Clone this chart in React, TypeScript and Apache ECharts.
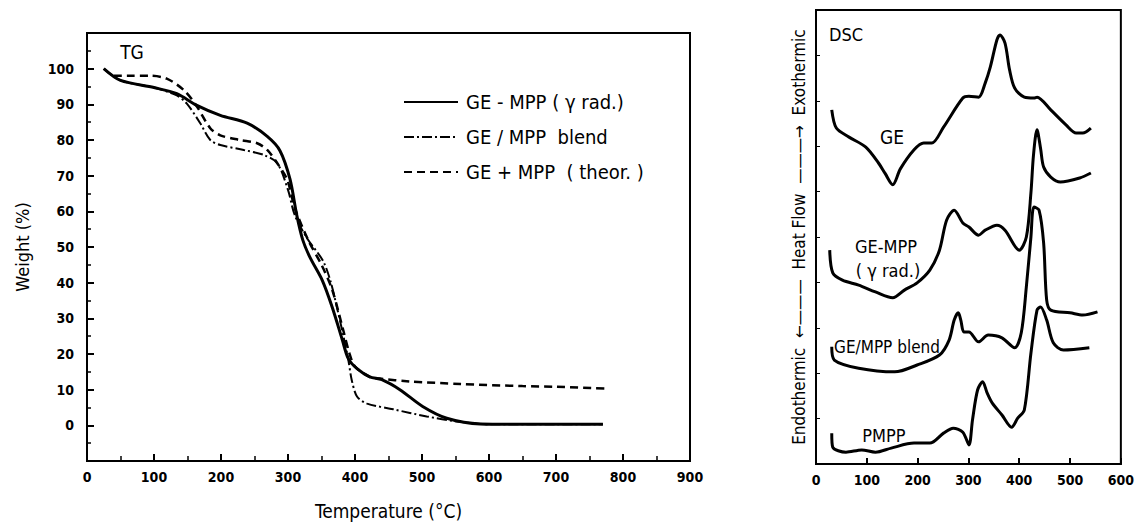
import React, { useEffect, useRef } from "react";
import * as echarts from "echarts";

const FONT = "'Liberation Sans Narrow', 'DejaVu Sans Condensed', 'Liberation Sans', sans-serif";

// ---- TG (left) ----
const tgXTicks = [0, 100, 200, 300, 400, 500, 600, 700, 800, 900];
const tgYLabels = [0, 10, 20, 30, 40, 50, 60, 70, 80, 90, 100];

const radT = [25, 50, 100, 134, 164, 199, 239, 269, 288, 303, 313, 322, 333, 351, 366, 381, 390, 403, 422, 440, 467, 501, 537, 587, 650, 700, 770];
const radW = [100, 96.7, 94.7, 93, 89.7, 86.9, 84.7, 81, 77, 69, 59, 52, 47, 40.7, 33.1, 24, 18.7, 15.9, 13.6, 12.8, 10, 5.3, 2, 0.4, 0.3, 0.3, 0.3];

const blendT = [25, 50, 100, 134, 149, 169, 184, 199, 234, 264, 284, 300, 310, 328, 352, 363, 373, 382, 390, 395, 403, 418, 457, 507, 552, 600, 700, 770];
const blendW = [100, 96.7, 94.7, 92.5, 90.2, 84.7, 80, 78.6, 77.2, 75.8, 73.5, 66, 59, 52.6, 46.2, 40.7, 33.1, 25.6, 18.4, 12.8, 8.1, 6.1, 4.5, 2.5, 1.1, 0.3, 0.3, 0.3];

const theorT = [40, 60, 94, 119, 145, 164, 184, 199, 228, 254, 269, 284, 299, 310, 330, 350, 366, 382, 392, 400, 422, 437, 482, 557, 650, 700, 778];
const theorW = [98, 98, 98, 97.2, 93.9, 89.4, 83.3, 81.3, 80, 79.1, 77.2, 73.5, 68.8, 61, 52, 45, 38, 27, 20, 16.5, 13.6, 13.1, 12.3, 11.6, 11, 10.8, 10.3];

// ---- DSC (right), arbitrary heat-flow units ----
const dscXTicks = [0, 100, 200, 300, 400, 500, 600];

const geT = [31, 40, 65, 98, 123, 136, 151, 166, 193, 212, 228, 251, 289, 301, 320, 333, 343, 356, 362, 372, 381, 391, 410, 429, 435, 462, 492, 512, 525, 541];
const geV = [78.0, 74.0, 72.0, 69.8, 66.3, 64.0, 61.5, 65.0, 69.2, 70.7, 70.7, 74.2, 80.6, 81.0, 80.8, 83.9, 87.4, 93.4, 94.5, 92.7, 86.8, 82.8, 80.8, 80.6, 80.8, 78.0, 74.7, 72.9, 72.9, 74.0];

const radDscT = [27, 33, 52, 84, 117, 151, 174, 199, 224, 243, 257, 272, 289, 301, 320, 333, 356, 372, 400, 414, 423, 428, 435, 442, 448, 462, 481, 519, 541];
const radDscV = [47.1, 42.1, 40.5, 39.4, 37.9, 36.6, 38.3, 39.9, 42.7, 47.1, 53.7, 55.9, 53.1, 52.2, 50.4, 51.5, 52.6, 51.5, 47.1, 50.0, 59.7, 68.0, 73.6, 69.5, 65.4, 63.2, 62.1, 63.0, 64.1];

const blendDscT = [31, 36, 84, 155, 199, 243, 262, 272, 280, 285, 291, 301, 320, 339, 366, 391, 404, 414, 423, 429, 439, 448, 454, 462, 500, 525, 554];
const blendDscV = [25.8, 22.9, 21.1, 20.3, 21.8, 24.0, 27.3, 31.7, 33.3, 31.7, 29.1, 29.1, 26.9, 28.4, 27.8, 25.6, 28.9, 39.0, 50.0, 56.6, 55.9, 48.7, 36.1, 33.9, 33.3, 32.8, 33.5];

const pmppT = [31, 33, 59, 90, 117, 148, 193, 224, 251, 270, 289, 301, 308, 318, 328, 337, 347, 366, 385, 397, 410, 423, 435, 442, 454, 467, 487, 538];
const pmppV = [6.8, 3.7, 2.6, 3.1, 2.6, 3.5, 4.6, 4.6, 6.8, 7.9, 7.0, 4.2, 9.7, 16.3, 18.1, 15.6, 13.4, 10.8, 8.1, 10.1, 11.9, 24.4, 33.9, 34.6, 31.7, 26.7, 25.1, 25.6];

const pairs = (xs: number[], ys: number[]) => xs.map((x, i) => [x, ys[i]]);

export default function App() {
  const ref = useRef<HTMLDivElement>(null);
  useEffect(() => {
    document.body.style.margin = "0";
    const chart = echarts.init(ref.current!, null, { renderer: "svg" });
    const axisLine = { show: true, onZero: false, lineStyle: { color: "#000", width: 2 } };
    const tickLabel = { color: "#000", fontFamily: FONT, fontSize: 14, fontWeight: "bold" as const };
    const txt = (x: number, y: number, text: string, size = 19) => ({
      type: "text", x, y, silent: true,
      style: { text, font: `${size}px ${FONT}`, fill: "#000", align: "center", verticalAlign: "middle" },
    });
    const dscLine = (name: string, xs: number[], ys: number[]) => ({
      name, type: "line", xAxisIndex: 1, yAxisIndex: 1, data: pairs(xs, ys),
      symbol: "none", smooth: 0.3, lineStyle: { color: "#000", width: 3 }, silent: true,
    });
    chart.setOption({
      animation: false,
      backgroundColor: "#fff",
      grid: [
        { left: 87, top: 33, width: 603, height: 432, show: true, borderColor: "#000", borderWidth: 2 },
        { left: 816, top: 10, width: 313, height: 454, show: true, borderColor: "#000", borderWidth: 2 },
      ],
      legend: {
        data: ["GE - MPP ( γ rad.)", "GE / MPP  blend", "GE + MPP  ( theor. )"],
        orient: "vertical", left: 398, top: 87, itemWidth: 54, itemHeight: 12, itemGap: 15,
        itemStyle: { opacity: 0 },
        textStyle: { color: "#000", fontFamily: FONT, fontSize: 20, padding: [0, 0, 0, 3] },
      },
      xAxis: [
        {
          gridIndex: 0, type: "value", min: 0, max: 900, interval: 100,
          axisLine, axisTick: { inside: true, length: 7, lineStyle: { color: "#000", width: 2 } },
          minorTick: { show: true, splitNumber: 2, length: 5, lineStyle: { color: "#000", width: 1.5 } },
          splitLine: { show: false },
          axisLabel: { ...tickLabel, margin: 9, customValues: tgXTicks },
          name: "Temperature (°C)", nameLocation: "middle", nameGap: 40,
          nameTextStyle: { color: "#000", fontFamily: FONT, fontSize: 19 },
        },
        {
          gridIndex: 1, type: "value", min: 0, max: 600, interval: 100,
          axisLine, axisTick: { inside: true, length: 6, lineStyle: { color: "#000", width: 2 } },
          splitLine: { show: false },
          axisLabel: { ...tickLabel, margin: 9, customValues: dscXTicks },
        },
      ],
      yAxis: [
        {
          gridIndex: 0, type: "value", min: -10, max: 110, interval: 10,
          axisLine, axisTick: { inside: true, length: 7, lineStyle: { color: "#000", width: 2 } },
          minorTick: { show: true, splitNumber: 2, length: 4, lineStyle: { color: "#000", width: 1.5 } },
          splitLine: { show: false },
          axisLabel: { ...tickLabel, margin: 13, formatter: (v: number) => (tgYLabels.includes(v) ? String(v) : "") },
          name: "Weight (%)", nameLocation: "middle", nameGap: 56, nameRotate: 90,
          nameTextStyle: { color: "#000", fontFamily: FONT, fontSize: 18 },
        },
        {
          gridIndex: 1, type: "value", min: 0, max: 100, interval: 10,
          axisLine, axisTick: { inside: true, length: 4, lineStyle: { color: "#000", width: 1 } },
          splitLine: { show: false }, axisLabel: { show: false },
          name: "Endothermic  ←———  Heat Flow  ———→  Exothermic", nameLocation: "middle", nameGap: 9, nameRotate: 90,
          nameTextStyle: { color: "#000", fontFamily: FONT, fontSize: 17 },
        },
      ],
      series: [
        {
          name: "GE - MPP ( γ rad.)", type: "line", data: pairs(radT, radW), symbol: "none",
          smooth: 0.3, lineStyle: { color: "#000", width: 3 }, itemStyle: { color: "#000" },
        },
        {
          name: "GE / MPP  blend", type: "line", data: pairs(blendT, blendW), symbol: "none",
          smooth: 0.3, lineStyle: { color: "#000", width: 2, type: [10, 3, 2, 3] }, itemStyle: { color: "#000" },
        },
        {
          name: "GE + MPP  ( theor. )", type: "line", data: pairs(theorT, theorW), symbol: "none",
          smooth: 0.3, lineStyle: { color: "#000", width: 2.5, type: [8, 5] }, itemStyle: { color: "#000" },
        },
        dscLine("GE", geT, geV),
        dscLine("GE-MPP (γ rad.)", radDscT, radDscV),
        dscLine("GE/MPP blend", blendDscT, blendDscV),
        dscLine("PMPP", pmppT, pmppV),
      ],
      graphic: [
        txt(132, 52, "TG", 19),
        txt(846, 34, "DSC", 18),
        txt(892, 137, "GE", 19),
        txt(886, 246, "GE-MPP", 18),
        txt(888, 270, "( γ rad.)", 18),
        txt(887, 347, "GE/MPP blend", 17),
        txt(884, 435, "PMPP", 18),
      ],
    });
    return () => chart.dispose();
  }, []);
  return <div ref={ref} style={{ width: 1137, height: 525 }} />;
}
